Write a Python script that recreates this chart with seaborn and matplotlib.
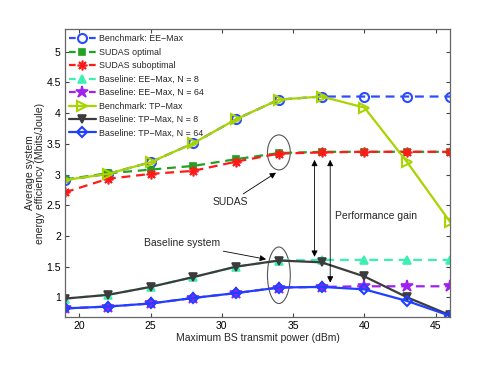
import numpy as np
import matplotlib
matplotlib.use("Agg")
import matplotlib.pyplot as plt
from matplotlib.patches import Ellipse
from matplotlib.ticker import FormatStrFormatter
import seaborn as sns

# data
power = [19, 22, 25, 28, 31, 34, 37, 40, 43, 46]
ee_max = [2.91, 3.01, 3.20, 3.51, 3.90, 4.22, 4.27, 4.27, 4.27, 4.27]
sudas_opt = [2.92, 3.02, 3.08, 3.14, 3.25, 3.35, 3.37, 3.37, 3.37, 3.37]
sudas_sub = [2.71, 2.93, 3.01, 3.06, 3.21, 3.34, 3.36, 3.37, 3.37, 3.37]
base_ee_8 = [0.98, 1.04, 1.17, 1.33, 1.50, 1.60, 1.61, 1.61, 1.61, 1.61]
base_ee_64 = [0.82, 0.85, 0.90, 0.99, 1.07, 1.16, 1.17, 1.18, 1.18, 1.18]
tp_max = [2.91, 3.01, 3.20, 3.51, 3.90, 4.22, 4.27, 4.09, 3.20, 2.23]
base_tp_8 = [0.98, 1.04, 1.17, 1.33, 1.50, 1.60, 1.57, 1.34, 1.00, 0.71]
base_tp_64 = [0.82, 0.85, 0.90, 0.99, 1.07, 1.16, 1.17, 1.13, 0.94, 0.70]

labels = ["Benchmark: EE\u2212Max", "SUDAS optimal", "SUDAS suboptimal",
          "Baseline: EE\u2212Max, N = 8", "Baseline: EE\u2212Max, N = 64",
          "Benchmark: TP\u2212Max", "Baseline: TP\u2212Max, N = 8",
          "Baseline: TP\u2212Max, N = 64"]

sns.set_style("ticks")
plt.rcParams["font.family"] = ["Liberation Sans", "DejaVu Sans"]
plt.rcParams["axes.unicode_minus"] = True

fig = plt.figure(figsize=(4.98, 3.74), dpi=100)
ax = fig.add_axes([0.1305, 0.1524, 0.7731, 0.7701])

dash = (0, (4.0, 2.6))
# (values, color, linestyle, marker, size, filled)
styles = [
    (ee_max, "#2b4cff", dash, "o", 6.5, False),
    (sudas_opt, "#22a022", dash, "s", 4.5, True),
    (sudas_sub, "#ff1a1a", dash, (8, 2, 0), 7, True),
    (base_ee_8, "#3cf0b0", dash, "^", 6, True),
    (base_ee_64, "#a020f0", dash, "*", 9, True),
    (tp_max, "#a8d400", "-", ">", 6.5, False),
    (base_tp_8, "#3c3c3c", "-", "v", 5.5, True),
    (base_tp_64, "#2040ff", "-", "D", 5, False),
]

for (vals, col, ls, mk, ms, filled), lab in zip(styles, labels):
    sns.lineplot(x=power, y=vals, ax=ax, color=col, linestyle=ls, lw=1.6,
                 marker=mk, markersize=ms, markeredgecolor=col,
                 markerfacecolor=col if filled else "none",
                 markeredgewidth=1.5 if not filled else 1.2, label=lab)

ax.set_xlim(19, 46)
ax.set_ylim(0.68, 5.37)
ax.set_xticks([20, 25, 30, 35, 40, 45])
ax.set_yticks([1, 1.5, 2, 2.5, 3, 3.5, 4, 4.5, 5])
ax.yaxis.set_major_formatter(FormatStrFormatter("%g"))
ax.tick_params(direction="in", top=True, right=True, length=3, width=0.8,
               labelsize=7.5, colors="#444444", labelcolor="black", pad=3)
for sp in ax.spines.values():
    sp.set_color("#666666")
    sp.set_linewidth(0.9)

ax.set_xlabel("Maximum BS transmit power (dBm)", fontsize=7.5, labelpad=1)
ax.set_ylabel("Average system\nenergy efficiency (Mbits/Joule)", fontsize=7.5,
              labelpad=1, linespacing=1.0)

leg = ax.legend(loc="upper left", bbox_to_anchor=(0.0, 0.995), frameon=False,
                fontsize=6.4, handlelength=3.0, handletextpad=0.35,
                labelspacing=0.5, borderaxespad=0.05)
# dash - marker - dash look in the legend
for ln in leg.get_lines():
    if ln.get_linestyle() != "-":
        ln.set_dashes((3.0, 6.0))

# annotations
ax.add_patch(Ellipse((34, 3.36), 1.6, 0.57, fill=False, ec="#555555", lw=0.8))
ax.add_patch(Ellipse((34, 1.36), 1.6, 0.92, fill=False, ec="#555555", lw=0.8))

arrow = dict(arrowstyle="-|>", color="black", lw=0.6, mutation_scale=9,
             shrinkA=0, shrinkB=0)
ax.annotate("SUDAS", xy=(33.8, 3.03), xytext=(30.6, 2.55), fontsize=7.5,
            ha="center", va="center", arrowprops=arrow)
ax.annotate("Baseline system", xy=(33.1, 1.62), xytext=(27.2, 1.88),
            fontsize=7.5, ha="center", va="center", arrowprops=arrow)

arrow2 = dict(arrowstyle="<|-|>", color="black", lw=0.6, mutation_scale=9,
              shrinkA=0, shrinkB=0)
ax.annotate("", xy=(36.5, 1.66), xytext=(36.5, 3.24), arrowprops=arrow2)
ax.annotate("", xy=(37.6, 1.24), xytext=(37.6, 3.24), arrowprops=arrow2)
ax.text(37.95, 2.33, "Performance gain", fontsize=7.5, ha="left", va="center")

fig.savefig("out.png", dpi=100)
